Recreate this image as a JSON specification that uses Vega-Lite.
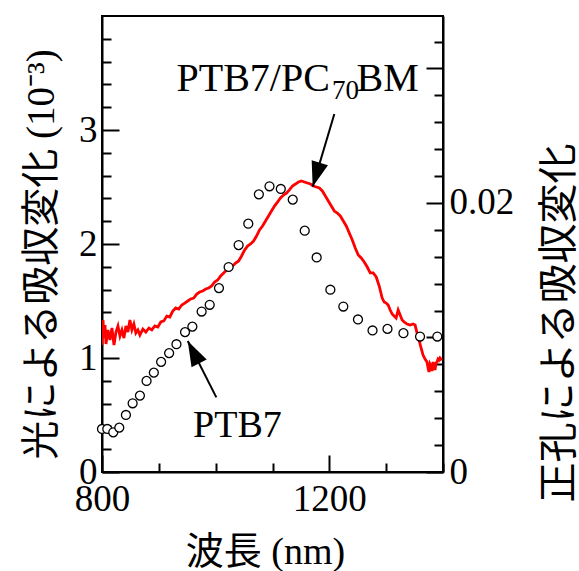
{
  "$schema": "https://vega.github.io/schema/vega-lite/v6.json",
  "width": 341,
  "height": 456,
  "autosize": {"type": "none"},
  "padding": {"left": 102, "top": 16, "right": 136, "bottom": 99},
  "background": "white",
  "config": {
    "view": {"stroke": "black", "strokeWidth": 2},
    "axis": {
      "domainColor": "black", "domainWidth": 2, "tickColor": "black", "tickWidth": 2, "grid": false,
      "labelFont": "Liberation Serif", "labelFontSize": 37, "labelColor": "black",
      "titleFont": "Liberation Serif, Noto Sans CJK JP", "titleFontSize": 39, "titleFontWeight": "normal", "titleColor": "black",
      "labelFlush": false, "labelOverlap": false, "labelBound": false
    }
  },
  "datasets": {
    "photo": [
      {"wl": 800.0, "dA": 1.114}, {"wl": 801.8, "dA": 1.333}, {"wl": 803.5, "dA": 1.175}, {"wl": 805.3, "dA": 1.289},
      {"wl": 807.0, "dA": 1.123}, {"wl": 810.5, "dA": 1.246}, {"wl": 814.0, "dA": 1.158}, {"wl": 817.5, "dA": 1.263},
      {"wl": 821.1, "dA": 1.114}, {"wl": 824.6, "dA": 1.228}, {"wl": 828.1, "dA": 1.281}, {"wl": 831.6, "dA": 1.193},
      {"wl": 835.1, "dA": 1.246}, {"wl": 838.6, "dA": 1.175}, {"wl": 842.1, "dA": 1.281}, {"wl": 845.6, "dA": 1.228},
      {"wl": 849.1, "dA": 1.333}, {"wl": 852.6, "dA": 1.246}, {"wl": 856.1, "dA": 1.298}, {"wl": 859.6, "dA": 1.219},
      {"wl": 863.2, "dA": 1.246}, {"wl": 866.7, "dA": 1.202}, {"wl": 871.9, "dA": 1.254}, {"wl": 877.2, "dA": 1.228},
      {"wl": 882.5, "dA": 1.263}, {"wl": 887.7, "dA": 1.246}, {"wl": 893.0, "dA": 1.281}, {"wl": 898.2, "dA": 1.272},
      {"wl": 903.5, "dA": 1.316}, {"wl": 908.8, "dA": 1.325}, {"wl": 914.0, "dA": 1.368}, {"wl": 919.3, "dA": 1.360},
      {"wl": 924.6, "dA": 1.412}, {"wl": 929.8, "dA": 1.439}, {"wl": 935.1, "dA": 1.430}, {"wl": 940.4, "dA": 1.465},
      {"wl": 945.6, "dA": 1.482}, {"wl": 950.9, "dA": 1.500}, {"wl": 956.1, "dA": 1.518}, {"wl": 961.4, "dA": 1.526},
      {"wl": 966.7, "dA": 1.561}, {"wl": 971.9, "dA": 1.579}, {"wl": 977.2, "dA": 1.588}, {"wl": 982.5, "dA": 1.605},
      {"wl": 987.7, "dA": 1.614}, {"wl": 993.0, "dA": 1.632}, {"wl": 998.2, "dA": 1.667}, {"wl": 1003.5, "dA": 1.684},
      {"wl": 1008.8, "dA": 1.719}, {"wl": 1014.0, "dA": 1.746}, {"wl": 1019.3, "dA": 1.772}, {"wl": 1024.6, "dA": 1.789},
      {"wl": 1029.8, "dA": 1.807}, {"wl": 1035.1, "dA": 1.833}, {"wl": 1040.4, "dA": 1.851}, {"wl": 1045.6, "dA": 1.895},
      {"wl": 1050.9, "dA": 1.947}, {"wl": 1056.1, "dA": 1.982}, {"wl": 1061.4, "dA": 2.000}, {"wl": 1066.7, "dA": 2.026},
      {"wl": 1071.9, "dA": 2.070}, {"wl": 1077.2, "dA": 2.123}, {"wl": 1082.5, "dA": 2.158}, {"wl": 1087.7, "dA": 2.202},
      {"wl": 1093.0, "dA": 2.246}, {"wl": 1098.2, "dA": 2.289}, {"wl": 1103.5, "dA": 2.333}, {"wl": 1108.8, "dA": 2.368},
      {"wl": 1114.0, "dA": 2.404}, {"wl": 1119.3, "dA": 2.430}, {"wl": 1124.6, "dA": 2.447}, {"wl": 1129.8, "dA": 2.474},
      {"wl": 1135.1, "dA": 2.509}, {"wl": 1140.4, "dA": 2.526}, {"wl": 1145.6, "dA": 2.544}, {"wl": 1150.9, "dA": 2.553},
      {"wl": 1156.1, "dA": 2.544}, {"wl": 1161.4, "dA": 2.535}, {"wl": 1166.7, "dA": 2.526}, {"wl": 1171.9, "dA": 2.509},
      {"wl": 1177.2, "dA": 2.500}, {"wl": 1182.5, "dA": 2.491}, {"wl": 1187.7, "dA": 2.465}, {"wl": 1193.0, "dA": 2.421},
      {"wl": 1198.2, "dA": 2.377}, {"wl": 1203.5, "dA": 2.333}, {"wl": 1208.8, "dA": 2.289}, {"wl": 1214.0, "dA": 2.272},
      {"wl": 1219.3, "dA": 2.246}, {"wl": 1224.6, "dA": 2.202}, {"wl": 1229.8, "dA": 2.158}, {"wl": 1235.1, "dA": 2.096},
      {"wl": 1240.4, "dA": 2.035}, {"wl": 1245.6, "dA": 1.965}, {"wl": 1250.9, "dA": 1.904}, {"wl": 1256.1, "dA": 1.877},
      {"wl": 1261.4, "dA": 1.842}, {"wl": 1266.7, "dA": 1.798}, {"wl": 1271.9, "dA": 1.746}, {"wl": 1277.2, "dA": 1.746},
      {"wl": 1282.5, "dA": 1.711}, {"wl": 1287.7, "dA": 1.632}, {"wl": 1293.0, "dA": 1.526}, {"wl": 1296.5, "dA": 1.491},
      {"wl": 1300.0, "dA": 1.482}, {"wl": 1303.5, "dA": 1.465}, {"wl": 1307.0, "dA": 1.421}, {"wl": 1310.5, "dA": 1.386},
      {"wl": 1314.0, "dA": 1.368}, {"wl": 1317.5, "dA": 1.351}, {"wl": 1321.1, "dA": 1.421}, {"wl": 1324.6, "dA": 1.377},
      {"wl": 1328.1, "dA": 1.333}, {"wl": 1331.6, "dA": 1.316}, {"wl": 1336.8, "dA": 1.298}, {"wl": 1342.1, "dA": 1.289},
      {"wl": 1347.4, "dA": 1.298}, {"wl": 1350.9, "dA": 1.289}, {"wl": 1354.4, "dA": 1.219}, {"wl": 1357.9, "dA": 1.158},
      {"wl": 1361.4, "dA": 1.088}, {"wl": 1364.9, "dA": 1.026}, {"wl": 1368.4, "dA": 0.991}, {"wl": 1371.9, "dA": 0.965},
      {"wl": 1373.7, "dA": 0.912}, {"wl": 1375.4, "dA": 0.877}, {"wl": 1377.2, "dA": 0.947}, {"wl": 1378.9, "dA": 0.930},
      {"wl": 1380.7, "dA": 0.886}, {"wl": 1382.5, "dA": 0.965}, {"wl": 1384.2, "dA": 0.930}, {"wl": 1386.0, "dA": 0.895},
      {"wl": 1387.7, "dA": 0.956}, {"wl": 1389.5, "dA": 0.965}, {"wl": 1391.2, "dA": 0.991}, {"wl": 1393.0, "dA": 0.982},
      {"wl": 1394.7, "dA": 1.000}, {"wl": 1398.2, "dA": 0.982}
    ],
    "hole": [
      {"wl": 800.0, "dA": 0.00320}, {"wl": 809.3, "dA": 0.00320}, {"wl": 819.8, "dA": 0.00295}, {"wl": 830.4, "dA": 0.00330},
      {"wl": 842.1, "dA": 0.00424}, {"wl": 853.9, "dA": 0.00511}, {"wl": 866.7, "dA": 0.00568}, {"wl": 878.4, "dA": 0.00677},
      {"wl": 891.2, "dA": 0.00739}, {"wl": 904.0, "dA": 0.00819}, {"wl": 918.1, "dA": 0.00884}, {"wl": 931.0, "dA": 0.00950},
      {"wl": 946.1, "dA": 0.01040}, {"wl": 959.0, "dA": 0.01081}, {"wl": 975.3, "dA": 0.01193}, {"wl": 989.5, "dA": 0.01243},
      {"wl": 1005.8, "dA": 0.01367}, {"wl": 1022.8, "dA": 0.01524}, {"wl": 1040.4, "dA": 0.01687}, {"wl": 1057.4, "dA": 0.01846},
      {"wl": 1076.0, "dA": 0.02064}, {"wl": 1094.7, "dA": 0.02124}, {"wl": 1114.6, "dA": 0.02104}, {"wl": 1135.6, "dA": 0.02025},
      {"wl": 1156.7, "dA": 0.01794}, {"wl": 1177.7, "dA": 0.01595}, {"wl": 1201.8, "dA": 0.01355}, {"wl": 1224.6, "dA": 0.01230},
      {"wl": 1250.4, "dA": 0.01134}, {"wl": 1276.0, "dA": 0.01052}, {"wl": 1302.3, "dA": 0.01064}, {"wl": 1330.4, "dA": 0.01032},
      {"wl": 1359.6, "dA": 0.01007}, {"wl": 1390.0, "dA": 0.01007}
    ],
    "arrows": [
      {"name": "blend", "wl": 1170.7, "dA": 2.503, "wl2": 1208.8, "dA2": 3.140},
      {"name": "PTB7", "wl": 950.9, "dA": 1.149, "wl2": 1001.2, "dA2": 0.655}
    ],
    "labels": [
      {"part": "main", "text": "PTB7/PC", "wl": 931.0, "dA": 3.345},
      {"part": "main", "text": "BM", "wl": 1247.9, "dA": 3.345},
      {"part": "sub", "text": "70", "wl": 1204.7, "dA": 3.269},
      {"part": "small", "text": "PTB7", "wl": 960.2, "dA": 0.310}
    ]
  },
  "encoding": {
    "x": {
      "field": "wl", "type": "quantitative",
      "scale": {"domain": [800, 1400], "nice": false, "zero": false},
      "axis": {
        "orient": "bottom",
        "values": [800, 900, 1000, 1100, 1200, 1300, 1400],
        "tickSize": {"condition": {"test": "datum.value % 400 === 0", "value": -17}, "value": -9},
        "labelExpr": "datum.value === 800 || datum.value === 1200 ? datum.value + '' : ''",
        "labelPadding": 26,
        "title": "波長 (nm)",
        "titleFontSize": 38,
        "titleX": 163, "titleY": 80, "titleAlign": "center", "titleBaseline": "middle"
      }
    }
  },
  "layer": [
    {
      "data": {"name": "photo"},
      "mark": {"type": "line", "color": "#ff0000", "strokeWidth": 2.8, "clip": true},
      "encoding": {
        "y": {
          "field": "dA", "type": "quantitative",
          "scale": {"domain": [0, 4], "nice": false, "zero": false},
          "axis": {
            "orient": "left",
            "values": [0, 0.2, 0.4, 0.6, 0.8, 1, 1.2, 1.4, 1.6, 1.8, 2, 2.2, 2.4, 2.6, 2.8, 3, 3.2, 3.4, 3.6, 3.8],
            "tickSize": {"condition": {"test": "datum.value % 1 === 0", "value": -17}, "value": -9},
            "labelExpr": "datum.value === 0 || datum.value === 1 || datum.value === 2 || datum.value === 3 ? datum.value + '' : ''",
            "labelPadding": 22,
            "title": "光による吸収変化 (10⁻³)",
            "titleAngle": 270, "titleX": -61, "titleY": 238, "titleAlign": "center", "titleBaseline": "middle"
          }
        }
      }
    },
    {
      "data": {"name": "hole"},
      "mark": {"type": "point", "shape": "circle", "filled": true, "fill": "white", "stroke": "black", "strokeWidth": 1.3, "size": 80, "opacity": 1, "clip": false},
      "encoding": {
        "y": {
          "field": "dA", "type": "quantitative",
          "scale": {"domain": [0, 0.0339], "nice": false, "zero": false},
          "axis": {
            "orient": "right",
            "values": [0, 0.002, 0.004, 0.006, 0.008, 0.01, 0.012, 0.014, 0.016, 0.018, 0.02, 0.022, 0.024, 0.026, 0.028, 0.03, 0.032],
            "tickSize": {"condition": {"test": "abs(datum.value * 100 - round(datum.value * 100)) < 0.000001", "value": -17}, "value": -9},
            "labelExpr": "datum.value === 0 || datum.value === 0.02 ? datum.value + '' : ''",
            "labelPadding": 23,
            "title": "正孔による吸収変化",
            "titleFontSize": 40,
            "titleAngle": 270, "titleX": 116, "titleY": 306.5, "titleAlign": "center", "titleBaseline": "middle"
          }
        }
      }
    },
    {
      "data": {"name": "arrows"},
      "mark": {"type": "rule", "color": "black", "strokeWidth": 2},
      "encoding": {
        "x2": {"field": "wl2"},
        "y": {"field": "dA", "type": "quantitative", "scale": {"domain": [0, 4], "nice": false, "zero": false}, "axis": null},
        "y2": {"field": "dA2"}
      }
    },
    {
      "data": {"name": "arrows"},
      "transform": [{"filter": "datum.name === 'blend'"}],
      "mark": {"type": "point", "shape": "M0,0L0.68,2L-0.68,2Z", "filled": true, "color": "black", "opacity": 1, "size": 625, "angle": 196.6},
      "encoding": {
        "y": {"field": "dA", "type": "quantitative", "scale": {"domain": [0, 4], "nice": false, "zero": false}, "axis": null}
      }
    },
    {
      "data": {"name": "arrows"},
      "transform": [{"filter": "datum.name === 'PTB7'"}],
      "mark": {"type": "point", "shape": "M0,0L0.68,2L-0.68,2Z", "filled": true, "color": "black", "opacity": 1, "size": 625, "angle": 333},
      "encoding": {
        "y": {"field": "dA", "type": "quantitative", "scale": {"domain": [0, 4], "nice": false, "zero": false}, "axis": null}
      }
    },
    {
      "data": {"name": "labels"},
      "transform": [{"filter": "datum.part === 'main'"}],
      "mark": {"type": "text", "font": "Liberation Serif", "fontSize": 40, "align": "left", "baseline": "alphabetic", "color": "black"},
      "encoding": {
        "y": {"field": "dA", "type": "quantitative", "scale": {"domain": [0, 4], "nice": false, "zero": false}, "axis": null},
        "text": {"field": "text"}
      }
    },
    {
      "data": {"name": "labels"},
      "transform": [{"filter": "datum.part === 'sub'"}],
      "mark": {"type": "text", "font": "Liberation Serif", "fontSize": 27, "align": "left", "baseline": "alphabetic", "color": "black"},
      "encoding": {
        "y": {"field": "dA", "type": "quantitative", "scale": {"domain": [0, 4], "nice": false, "zero": false}, "axis": null},
        "text": {"field": "text"}
      }
    },
    {
      "data": {"name": "labels"},
      "transform": [{"filter": "datum.part === 'small'"}],
      "mark": {"type": "text", "font": "Liberation Serif", "fontSize": 38, "align": "left", "baseline": "alphabetic", "color": "black"},
      "encoding": {
        "y": {"field": "dA", "type": "quantitative", "scale": {"domain": [0, 4], "nice": false, "zero": false}, "axis": null},
        "text": {"field": "text"}
      }
    }
  ],
  "resolve": {"scale": {"y": "independent"}}
}
